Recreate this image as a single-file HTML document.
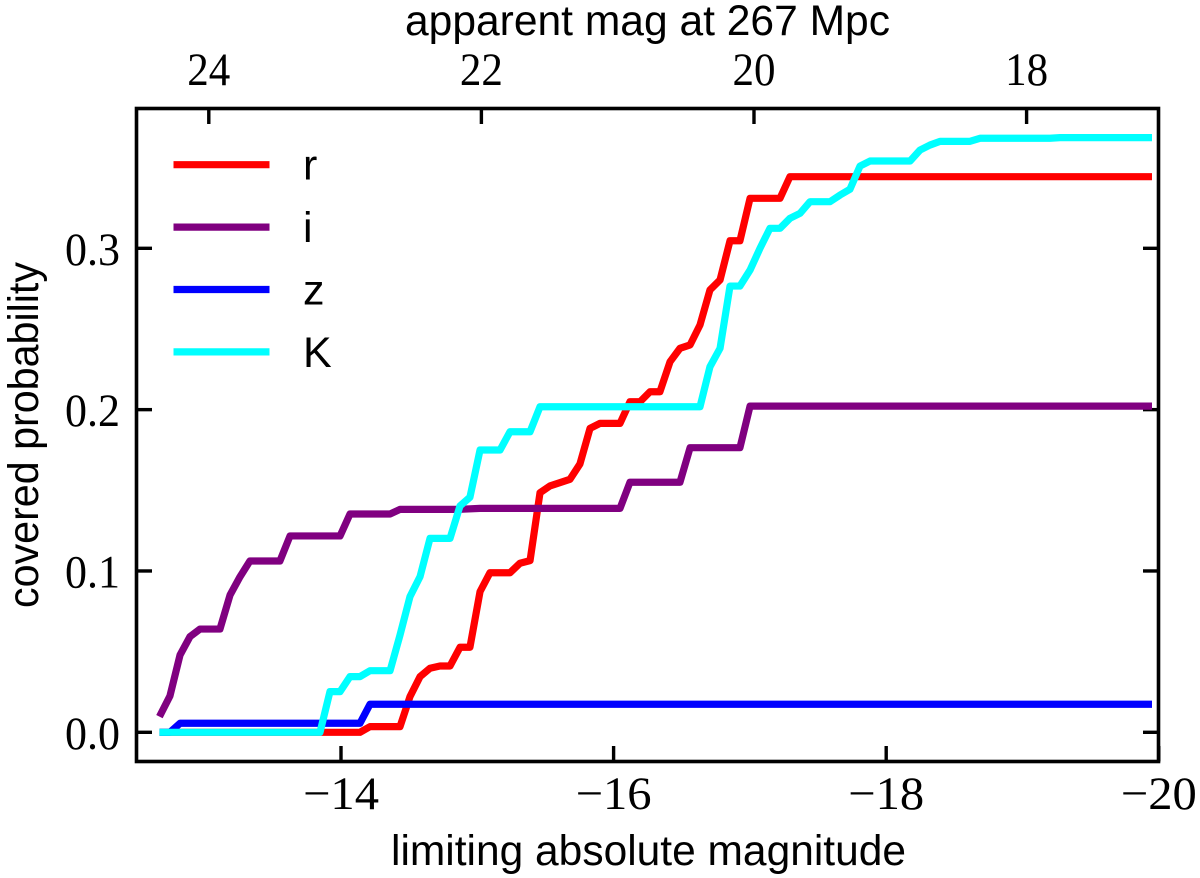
<!DOCTYPE html>
<html lang="en">
<head>
<meta charset="utf-8">
<title>Covered probability vs limiting magnitude</title>
<style>
html,body{margin:0;padding:0;background:#fff;width:1200px;height:878px;overflow:hidden}
svg{display:block}
.sans{font-family:"Liberation Sans",sans-serif;font-size:43px;fill:#000}
.serif{font-family:"Liberation Serif",serif;font-size:47px;fill:#000}
</style>
</head>
<body>
<svg id="chart" xmlns="http://www.w3.org/2000/svg" width="1200" height="878" viewBox="0 0 1200 878">
  <rect x="0" y="0" width="1200" height="878" fill="#fff"/>
  <g id="ticks"></g>
  <g id="series"></g>
  <rect x="136.5" y="108.5" width="1022" height="653" fill="none" stroke="#000" stroke-width="3.6"/>
  <text class="sans" x="405" y="35" textLength="485" lengthAdjust="spacingAndGlyphs">apparent mag at 267 Mpc</text>
  <text class="sans" x="391" y="865" textLength="515" lengthAdjust="spacingAndGlyphs">limiting absolute magnitude</text>
  <text class="sans" transform="translate(38,608) rotate(-90)" x="0" y="0" textLength="346" lengthAdjust="spacingAndGlyphs">covered probability</text>
  <g id="legend"></g>
</svg>
<script>
const xTickValues = [-14, -16, -18, -20];
const xTickLabels = ["\u221214", "\u221216", "\u221218", "\u221220"];
const topTickValues = [24, 22, 20, 18];
const topTickLabels = ["24", "22", "20", "18"];
const yTickValues = [0, 0.1, 0.2, 0.3];
const yTickLabels = ["0.0", "0.1", "0.2", "0.3"];
const distanceModulus = 37.03;

const rMag = [-12.668,-14.139,-14.213,-14.433,-14.506,-14.580,-14.653,-14.726,-14.800,-14.873,-14.946,-15.020,-15.093,-15.240,-15.313,-15.387,-15.460,-15.533,-15.680,-15.753,-15.827,-15.900,-16.047,-16.120,-16.194,-16.267,-16.340,-16.414,-16.487,-16.561,-16.634,-16.707,-16.781,-16.854,-16.927,-17.001,-17.221,-17.294,-19.950];
const rProb = [0,0,0.0035,0.0035,0.0221,0.0345,0.0397,0.0411,0.0411,0.0527,0.0527,0.0872,0.0989,0.0989,0.1048,0.1064,0.1485,0.1527,0.1568,0.1663,0.1884,0.1915,0.1915,0.2049,0.2049,0.2111,0.2111,0.2297,0.2380,0.2401,0.2525,0.2742,0.2804,0.3047,0.3047,0.3310,0.3310,0.3444,0.3444];

const iMag = [-12.668,-12.745,-12.819,-12.892,-12.966,-13.112,-13.186,-13.259,-13.332,-13.552,-13.626,-13.993,-14.066,-14.360,-14.433,-14.873,-15.020,-16.047,-16.120,-16.487,-16.561,-16.927,-17.001,-19.950];
const iProb = [0.0097,0.0225,0.0479,0.0593,0.0640,0.0640,0.0851,0.0964,0.1062,0.1062,0.1217,0.1217,0.1353,0.1353,0.1382,0.1382,0.1388,0.1388,0.1550,0.1550,0.1764,0.1764,0.2022,0.2022];

const zMag = [-12.668,-12.745,-12.819,-14.139,-14.213,-19.950];
const zProb = [0,0,0.0056,0.0056,0.0174,0.0174];

const kMag = [-12.668,-13.846,-13.919,-13.993,-14.066,-14.139,-14.213,-14.360,-14.433,-14.506,-14.580,-14.653,-14.800,-14.873,-14.946,-15.020,-15.167,-15.240,-15.387,-15.460,-16.634,-16.707,-16.781,-16.854,-16.927,-17.001,-17.074,-17.147,-17.221,-17.294,-17.368,-17.441,-17.588,-17.661,-17.734,-17.808,-17.881,-18.175,-18.248,-18.321,-18.395,-18.615,-18.688,-19.202,-19.275,-19.950];
const kProb = [0,0,0.0252,0.0252,0.0345,0.0345,0.0382,0.0382,0.0603,0.0841,0.0965,0.1202,0.1202,0.1403,0.1457,0.1750,0.1750,0.1863,0.1863,0.2018,0.2018,0.2266,0.2380,0.2766,0.2766,0.2865,0.3000,0.3124,0.3124,0.3186,0.3217,0.3289,0.3289,0.3330,0.3366,0.3510,0.3541,0.3541,0.3609,0.3640,0.3663,0.3663,0.3682,0.3682,0.3686,0.3686];

const legendLabels = ["r", "i", "z", "K"];
const seriesColors = ["#ff0000", "#800080", "#0000ff", "#00ffff"];

const NS = "http://www.w3.org/2000/svg";
function xScale(m) { return 341 + (-14 - m) * 136.3; }
function yScale(p) { return 732.3 - p * 1613.3; }
function topScale(a) { return xScale(a - distanceModulus); }

const ticksGroup = document.getElementById("ticks");
const seriesGroup = document.getElementById("series");
const legendGroup = document.getElementById("legend");

function tickLine(x1, y1, x2, y2) {
  const l = document.createElementNS(NS, "line");
  l.setAttribute("x1", x1);
  l.setAttribute("y1", y1);
  l.setAttribute("x2", x2);
  l.setAttribute("y2", y2);
  l.setAttribute("stroke", "#000");
  l.setAttribute("stroke-width", "3.4");
  
  
  ticksGroup.appendChild(l);
}
function tickText(x, y, anchor, str, width) {
  const t = document.createElementNS(NS, "text");
  t.setAttribute("x", x);
  t.setAttribute("y", y);
  t.setAttribute("text-anchor", anchor);
  t.setAttribute("class", "serif");
  t.setAttribute("textLength", width);
  t.setAttribute("lengthAdjust", "spacingAndGlyphs");
  
  
  t.textContent = str;
  ticksGroup.appendChild(t);
}

xTickValues.forEach(function (v, i) {
  const x = xScale(v);
  tickLine(x, 761.5, x, 746);
  tickText(x, 809, "middle", xTickLabels[i], 76);
});
topTickValues.forEach(function (v, i) {
  const x = topScale(v);
  tickLine(x, 108.5, x, 124);
  tickText(x, 85, "middle", topTickLabels[i], 43);
});
yTickValues.forEach(function (v, i) {
  const y = yScale(v);
  tickLine(136.5, y, 152, y);
  tickLine(1158.5, y, 1143, y);
  tickText(120, y + 16.5, "end", yTickLabels[i], 55);
});

function drawSeries(mags, probs, color, name) {
  const p = document.createElementNS(NS, "polyline");
  const pts = mags.map(function (m, i) {
    return xScale(m).toFixed(2) + "," + yScale(probs[i]).toFixed(2);
  });
  p.setAttribute("points", pts.join(" "));
  p.setAttribute("fill", "none");
  p.setAttribute("stroke", color);
  p.setAttribute("stroke-width", "7.2");
  p.setAttribute("stroke-linejoin", "round");
  
  
  seriesGroup.appendChild(p);
}
drawSeries(rMag, rProb, seriesColors[0], "series-r-line");
drawSeries(iMag, iProb, seriesColors[1], "series-i-line");
drawSeries(zMag, zProb, seriesColors[2], "series-z-line");
drawSeries(kMag, kProb, seriesColors[3], "series-k-line");

legendLabels.forEach(function (label, i) {
  const y = 164.7 + i * 62.4;
  const l = document.createElementNS(NS, "line");
  l.setAttribute("x1", 173.5);
  l.setAttribute("x2", 269.5);
  l.setAttribute("y1", y);
  l.setAttribute("y2", y);
  l.setAttribute("stroke", seriesColors[i]);
  l.setAttribute("stroke-width", "7.2");
  
  
  legendGroup.appendChild(l);
  const t = document.createElementNS(NS, "text");
  t.setAttribute("x", 303);
  t.setAttribute("y", y + 15);
  t.setAttribute("class", "sans");
  
  
  t.textContent = label;
  legendGroup.appendChild(t);
});
</script>
</body>
</html>
